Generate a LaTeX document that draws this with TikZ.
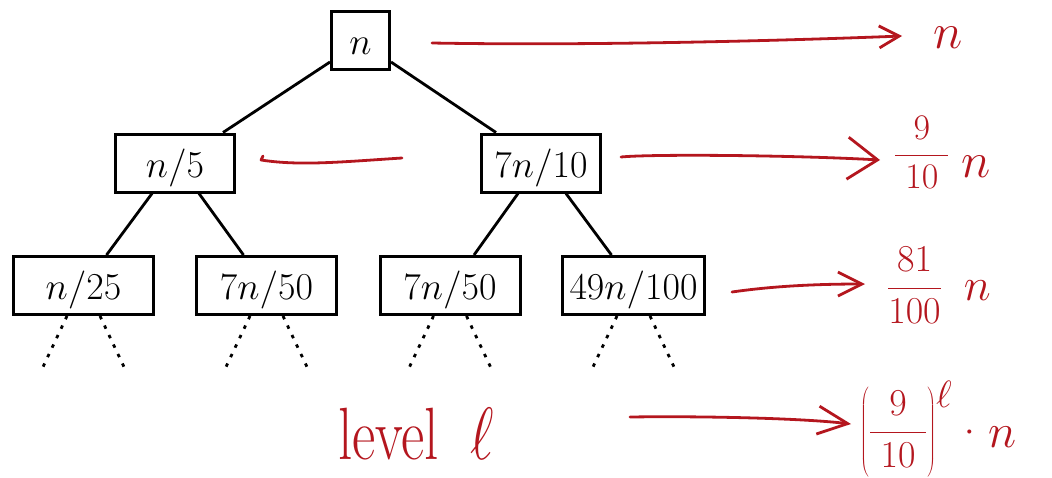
\RequirePackage{fix-cm}
\documentclass[tikz,border=0pt]{standalone}
\usepackage{graphicx}
\usetikzlibrary{arrows.meta,calc}
\definecolor{ink}{RGB}{180,22,30}
\newcommand{\bign}[1]{{\fontsize{#1}{#1}\selectfont$n$}}
\begin{document}
\begin{tikzpicture}[x=1pt,y=-1pt,
  box/.style={draw, line width=3pt, inner sep=0pt, minimum height=58pt,
    text height=28pt, text depth=0pt, font=\fontsize{38}{44}\selectfont},
  edge/.style={line width=2.8pt},
  dots/.style={line width=2.8pt, dash pattern=on 3.5pt off 7pt},
  pen/.style={draw=ink, line width=2.8pt, line cap=round, line join=round},
  lab/.style={text=ink, inner sep=0pt, font=\fontsize{36}{42}\selectfont}
]
\useasboundingbox (0,0) rectangle (1052,477);

% recursion tree
\node[box, minimum width=58pt]  (root) at (360.5,40.5) {$n$};
\node[box, minimum width=119pt] (a)    at (175,163)    {$n/5$};
\node[box, minimum width=119pt] (b)    at (541,163)    {$7n/10$};
\node[box, minimum width=140pt] (aa)   at (83.5,285.5) {$n/25$};
\node[box, minimum width=140pt] (ab)   at (266.5,285.5) {$7n/50$};
\node[box, minimum width=140pt] (ba)   at (450,285.5)  {$7n/50$};
\node[box, minimum width=142pt] (bb)   at (633.5,285.5) {$49n/100$};

\draw[edge] ([yshift=9pt]root.south west) -- ([xshift=48pt]a.north);
\draw[edge] ([yshift=9pt]root.south east) -- ([xshift=-45pt]b.north);
\draw[edge] ([xshift=-23pt]a.south) -- ([xshift=23pt]aa.north);
\draw[edge] ([xshift=24pt]a.south)  -- ([xshift=-23pt]ab.north);
\draw[edge] ([xshift=-23pt]b.south) -- ([xshift=24pt]ba.north);
\draw[edge] ([xshift=25pt]b.south)  -- ([xshift=-22pt]bb.north);

% dotted continuations below the last level
\foreach \n in {aa,ab,ba,bb}{
  \coordinate (\n-l) at ($(\n.south)+(-41,52)$);
  \coordinate (\n-r) at ($(\n.south)+(41,52)$);
  \draw[dots] ([xshift=-16.5pt]\n.south) -- (\n-l);
  \draw[dots] ([xshift=16.5pt]\n.south) -- (\n-r);
}

% handwritten level sums
\coordinate (s0) at (432,43);   \coordinate (e0) at (902,36);
\coordinate (s1) at (621,157);  \coordinate (e1) at (880,160);
\coordinate (s2) at (732,292);  \coordinate (e2) at (865,284);
\coordinate (s3) at (630,417);  \coordinate (e3) at (851,424);
\coordinate (m0) at (263,156);  \coordinate (m1) at (402,158);

\draw[pen, -{Straight Barb[length=20pt,width=22pt]}]
  (s0) .. controls (600,46) and (800,40) .. (e0);
\draw[pen, -{Straight Barb[length=30pt,width=42pt]}]
  (s1) .. controls (650,154) and (790,155) .. (e1);
\draw[pen, -{Straight Barb[length=24pt,width=24pt]}]
  (s2) .. controls (760,288) and (800,284) .. (e2);
\draw[pen, -{Straight Barb[length=30pt,width=28pt]}]
  (s3) .. controls (700,416) and (800,418) .. (e3);
\draw[pen] (m0) -- (261,160) .. controls (300,166) and (340,162) .. (m1);

\node[lab, anchor=base west] (l0) at (933,48) {\bign{50}};
\node[lab, anchor=base west] (l1) at (894,164)
  {$\displaystyle\frac{\;9\;}{\;10\;}$\hspace{12pt}\raisebox{-13pt}{\bign{50}}};
\node[lab, anchor=base west, font=\fontsize{38}{44}\selectfont] (l2) at (887,297.5)
  {$\displaystyle\frac{81}{100}$\hspace{22pt}\raisebox{-3pt}{\bign{46}}};
\node[lab, anchor=base west, font=\fontsize{38}{44}\selectfont] (l3) at (860,441.5)
  {$\displaystyle\left(\rule[-28pt]{0pt}{84pt}\frac{\;9\;}{\;10\;}\right)^{\raisebox{-12pt}{$\textstyle\ell$}}$%
   \hspace{12pt}$\cdot$\hspace{14pt}\raisebox{-6pt}{\bign{48}}};
\node[lab, anchor=base west, font=\fontsize{57}{62}\selectfont] (lv) at (338,459)
  {\scalebox{1}[1.3]{level\hspace{0.55em}$\ell$}};
\end{tikzpicture}
\end{document}
